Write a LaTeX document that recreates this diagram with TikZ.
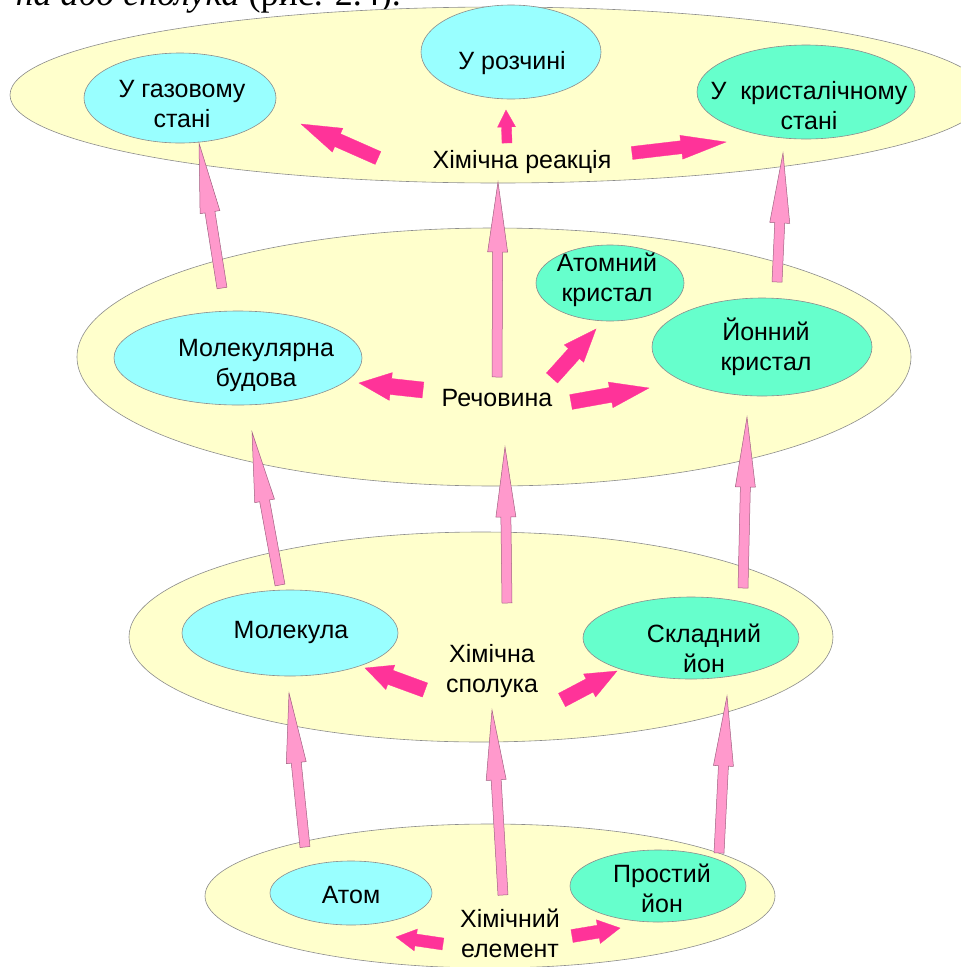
\documentclass[tikz,border=0pt]{standalone}
\usepackage{fontspec}
\setmainfont{Liberation Sans}
\newfontfamily\bookfont{Liberation Serif}
\usetikzlibrary{calc,shapes.geometric}
\definecolor{bigyellow}{HTML}{FFFFCC}
\definecolor{cyanfill}{HTML}{99FFFF}
\definecolor{greenfill}{HTML}{66FFCC}
\definecolor{pinkfill}{HTML}{FF99CC}
\definecolor{magentafill}{HTML}{FF3399}
\definecolor{outl}{HTML}{8C8C8C}
\definecolor{pinkline}{HTML}{A06080}
% #1 tail, #2 tip, #3 half shaft, #4 half head, #5 head length, #6 style
\newcommand\blockarrow[6]{%
  \coordinate (ba-h) at ($(#2)!#5!(#1)$);
  \path[#6] ($(#1)!#3!90:(#2)$) -- ($(ba-h)!#3!-90:(#1)$) -- ($(ba-h)!#4!-90:(#1)$)
    -- (#2) -- ($(ba-h)!#4!90:(#1)$) -- ($(ba-h)!#3!90:(#1)$) -- ($(#1)!#3!-90:(#2)$) -- cycle;}
\tikzset{
  bigell/.style={ellipse, draw=outl, fill=bigyellow, line width=0.6pt, inner sep=0pt},
  cyanell/.style={ellipse, draw=outl, fill=cyanfill, line width=0.6pt, inner sep=0pt},
  greenell/.style={ellipse, draw=outl, fill=greenfill, line width=0.6pt, inner sep=0pt},
  lbl/.style={font=\fontsize{25}{30}\selectfont, align=center, inner sep=0pt, text=black},
  uparrow/.style={fill=pinkfill, draw=pinkline, line width=0.5pt},
  sidearrow/.style={fill=magentafill, draw=magentafill, line width=0.3pt},
}
\begin{document}
\begin{tikzpicture}[x=1pt, y=-1pt]
\path[use as bounding box, clip] (0,0) rectangle (961,967);
\fill[white] (0,0) rectangle (961,967);

% cropped line of book text at the top
\node[anchor=base east, inner sep=0pt, font=\bookfont\fontsize{36}{40}\selectfont] (booktext) at (401,5) {\textit{на або сполука} (рис. 2.4).};

% level ellipses
\node[bigell, minimum width=976pt, minimum height=176pt] (lvlD) at (498,95) {};
\node[bigell, minimum width=834pt, minimum height=258pt] (lvlC) at (494,357) {};
\node[bigell, minimum width=704pt, minimum height=210pt] (lvlB) at (481,637) {};
\node[bigell, minimum width=570pt, minimum height=144pt] (lvlA) at (490,896) {};

% inner ellipses
\node[cyanell, minimum width=192pt, minimum height=90pt] (gas) at (180,98) {};
\node[cyanell, minimum width=180pt, minimum height=94pt] (sol) at (511,52) {};
\node[greenell, minimum width=218pt, minimum height=94pt] (cry) at (806,92) {};
\node[cyanell, minimum width=248pt, minimum height=94pt] (mols) at (238,358) {};
\node[greenell, minimum width=148pt, minimum height=76pt] (atc) at (610,283) {};
\node[greenell, minimum width=220pt, minimum height=98pt] (ionc) at (762,347) {};
\node[cyanell, minimum width=216pt, minimum height=86pt] (mol) at (290,633) {};
\node[greenell, minimum width=216pt, minimum height=82pt] (cion) at (691,638) {};
\node[cyanell, minimum width=162pt, minimum height=64pt] (atom) at (351,893) {};
\node[greenell, minimum width=176pt, minimum height=72pt] (sion) at (658,886) {};

% texts
\node[lbl] (tgas) at (182,104) {У газовому\\стані};
\node[lbl] (tsol) at (512,63) {У розчині};
\node[lbl] (tcry) at (809,106) {У~~кристалічному\\стані};
\node[lbl] (tmols) at (256,365) {Молекулярна\\будова};
\node[lbl] (tatc) at (607,280) {Атомний\\кристал};
\node[lbl] (tionc) at (766,347) {Йонний\\кристал};
\node[lbl] (tmol) at (291,632) {Молекула};
\node[lbl] (tcion) at (704,648) {Складний\\йон};
\node[lbl] (tatom) at (351,895) {Атом};
\node[lbl] (tsion) at (662,888) {Простий\\йон};
\node[lbl] (treac) at (522,162) {Хімічна реакція};
\node[lbl] (tsubs) at (497,398) {Речовина};
\node[lbl] (tcomp) at (492,671) {Хімічна\\сполука};
\node[lbl] (telem) at (510,933) {Хімічний\\елемент};

% arrow end points
\coordinate (p1a) at (222,288); \coordinate (p1b) at (199,143);
\coordinate (p2a) at (497,377); \coordinate (p2b) at (498,182);
\coordinate (p3a) at (777,282); \coordinate (p3b) at (783,153);
\coordinate (p4a) at (280,585); \coordinate (p4b) at (252,432);
\coordinate (p5a) at (507,603); \coordinate (p5b) at (505,447);
\coordinate (p6a) at (743,588); \coordinate (p6b) at (747,417);
\coordinate (p7a) at (305,847); \coordinate (p7b) at (289,693);
\coordinate (p8a) at (503,895); \coordinate (p8b) at (492,710);
\coordinate (p9a) at (719,853); \coordinate (p9b) at (727,696);

\coordinate (ma1) at (378,158); \coordinate (mb1) at (301,124);
\coordinate (ma2) at (507,143); \coordinate (mb2) at (506,110);
\coordinate (ma3) at (632,153); \coordinate (mb3) at (726,142);
\coordinate (ma4) at (423,390); \coordinate (mb4) at (359,383);
\coordinate (ma5) at (552,378); \coordinate (mb5) at (596,329);
\coordinate (ma6) at (571,402); \coordinate (mb6) at (649,388);
\coordinate (ma7) at (425,690); \coordinate (mb7) at (365,668);
\coordinate (ma8) at (562,700); \coordinate (mb8) at (617,671);
\coordinate (ma9) at (443,944); \coordinate (mb9) at (396,937);
\coordinate (ma10) at (572,936); \coordinate (mb10) at (620,928);

% pink upward arrows
\foreach \i in {1,...,9}{\blockarrow{p\i a}{p\i b}{5pt}{10pt}{70pt}{uparrow}}

% magenta arrows
\blockarrow{ma1}{mb1}{7pt}{13pt}{40pt}{sidearrow}
\blockarrow{ma2}{mb2}{5pt}{9pt}{17pt}{sidearrow}
\blockarrow{ma3}{mb3}{6.5pt}{12pt}{45pt}{sidearrow}
\blockarrow{ma4}{mb4}{8pt}{14pt}{32pt}{sidearrow}
\blockarrow{ma5}{mb5}{7.5pt}{13pt}{33pt}{sidearrow}
\blockarrow{ma6}{mb6}{7.5pt}{13pt}{39pt}{sidearrow}
\blockarrow{ma7}{mb7}{7.5pt}{13pt}{27pt}{sidearrow}
\blockarrow{ma8}{mb8}{7.5pt}{13pt}{31pt}{sidearrow}
\blockarrow{ma9}{mb9}{6pt}{11pt}{20pt}{sidearrow}
\blockarrow{ma10}{mb10}{6.5pt}{12pt}{22pt}{sidearrow}
\end{tikzpicture}
\end{document}
